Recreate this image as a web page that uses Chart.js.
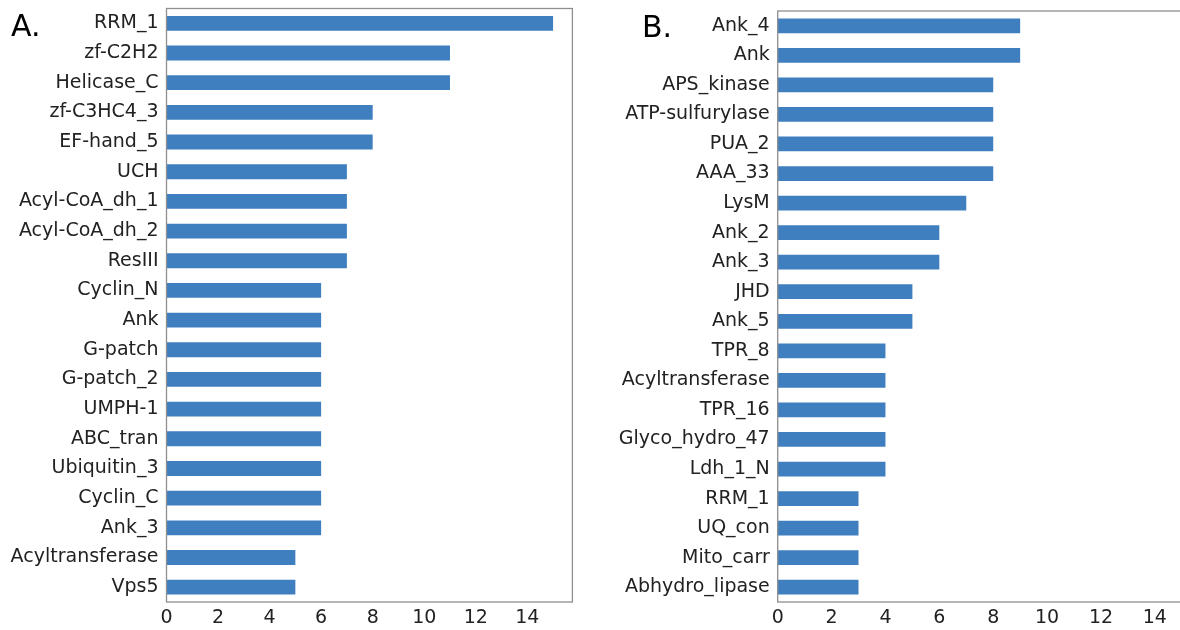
<!DOCTYPE html>
<html>
<head>
<meta charset="utf-8">
<script src="https://cdn.jsdelivr.net/npm/chart.js@4.4.1/dist/chart.umd.min.js"></script>
<style>
  html, body { margin: 0; padding: 0; background: #ffffff; overflow: hidden; }
  body { width: 1180px; height: 630px; position: relative; }
  .panel { position: absolute; top: 0; height: 630px; }
  #wrapA { left: 0; width: 590px; }
  #wrapB { left: 590px; width: 630px; }
  .tag { position: absolute; font-family: "DejaVu Sans", sans-serif; font-size: 30px; color: #000; line-height: 1; }
</style>
</head>
<body>
<div class="panel" id="wrapA"><canvas id="chartA" width="590" height="630"></canvas></div>
<div class="panel" id="wrapB"><canvas id="chartB" width="630" height="630"></canvas></div>
<div class="tag" style="left:11px; top:11px;">A.</div>
<div class="tag" style="left:642px; top:12px;">B.</div>
<script>
// Domain counts, panel A
const domainsA = ["RRM_1", "zf-C2H2", "Helicase_C", "zf-C3HC4_3", "EF-hand_5", "UCH",
  "Acyl-CoA_dh_1", "Acyl-CoA_dh_2", "ResIII", "Cyclin_N", "Ank", "G-patch", "G-patch_2",
  "UMPH-1", "ABC_tran", "Ubiquitin_3", "Cyclin_C", "Ank_3", "Acyltransferase", "Vps5"];
const countsA = [15, 11, 11, 8, 8, 7, 7, 7, 7, 6, 6, 6, 6, 6, 6, 6, 6, 6, 5, 5];

// Domain counts, panel B
const domainsB = ["Ank_4", "Ank", "APS_kinase", "ATP-sulfurylase", "PUA_2", "AAA_33", "LysM",
  "Ank_2", "Ank_3", "JHD", "Ank_5", "TPR_8", "Acyltransferase", "TPR_16", "Glyco_hydro_47",
  "Ldh_1_N", "RRM_1", "UQ_con", "Mito_carr", "Abhydro_lipase"];
const countsB = [9, 9, 8, 8, 8, 8, 7, 6, 6, 5, 5, 4, 4, 4, 4, 4, 3, 3, 3, 3];

// Shared x axis
const xTicks = [0, 2, 4, 6, 8, 10, 12, 14];
const xMax = 15.75;

const BAR = "#3f7fbf";
const FRAME = "#8e8e8e";
const TEXT = "#222222";
const FONT = { family: "'DejaVu Sans', sans-serif", size: 19 };

// Draws the full rectangular frame around the plot area
const framePlugin = {
  id: "frame",
  afterDraw(chart) {
    const a = chart.chartArea, ctx = chart.ctx;
    ctx.save();
    ctx.strokeStyle = FRAME;
    ctx.lineWidth = 1.3;
    ctx.strokeRect(a.left, a.top, a.right - a.left, a.bottom - a.top);
    ctx.restore();
  }
};

function makeChart(id, labels, values, yWidth, pad) {
  return new Chart(document.getElementById(id), {
    type: "bar",
    data: {
      labels: labels,
      datasets: [{
        data: values,
        backgroundColor: BAR,
        borderWidth: 0,
        categoryPercentage: 0.5,
        barPercentage: 1.0
      }]
    },
    options: {
      indexAxis: "y",
      responsive: false,
      animation: false,
      devicePixelRatio: 1,
      layout: { padding: pad },
      plugins: { legend: { display: false }, tooltip: { enabled: false } },
      scales: {
        x: {
          min: 0,
          max: xMax,
          grid: { display: false, drawTicks: false },
          border: { display: false },
          afterBuildTicks(scale) { scale.ticks = xTicks.map(v => ({ value: v })); },
          afterFit(scale) {
            scale.height = 28;
            scale.paddingLeft = 0; scale.paddingRight = 0;
          },
          ticks: { color: TEXT, font: FONT, padding: 5, maxRotation: 0 }
        },
        y: {
          grid: { display: false, drawTicks: false },
          border: { display: false },
          afterFit(scale) {
            scale.width = yWidth;
            scale.paddingTop = 0; scale.paddingBottom = 0;
          },
          ticks: { color: TEXT, font: FONT, padding: 8, autoSkip: false }
        }
      }
    },
    plugins: [framePlugin]
  });
}

makeChart("chartA", domainsA, countsA, 166.5, { top: 8.5, right: 17.6, bottom: 0, left: 0 });
makeChart("chartB", domainsB, countsB, 187.7, { top: 11, right: 18, bottom: 0, left: 0 });
</script>
</body>
</html>
